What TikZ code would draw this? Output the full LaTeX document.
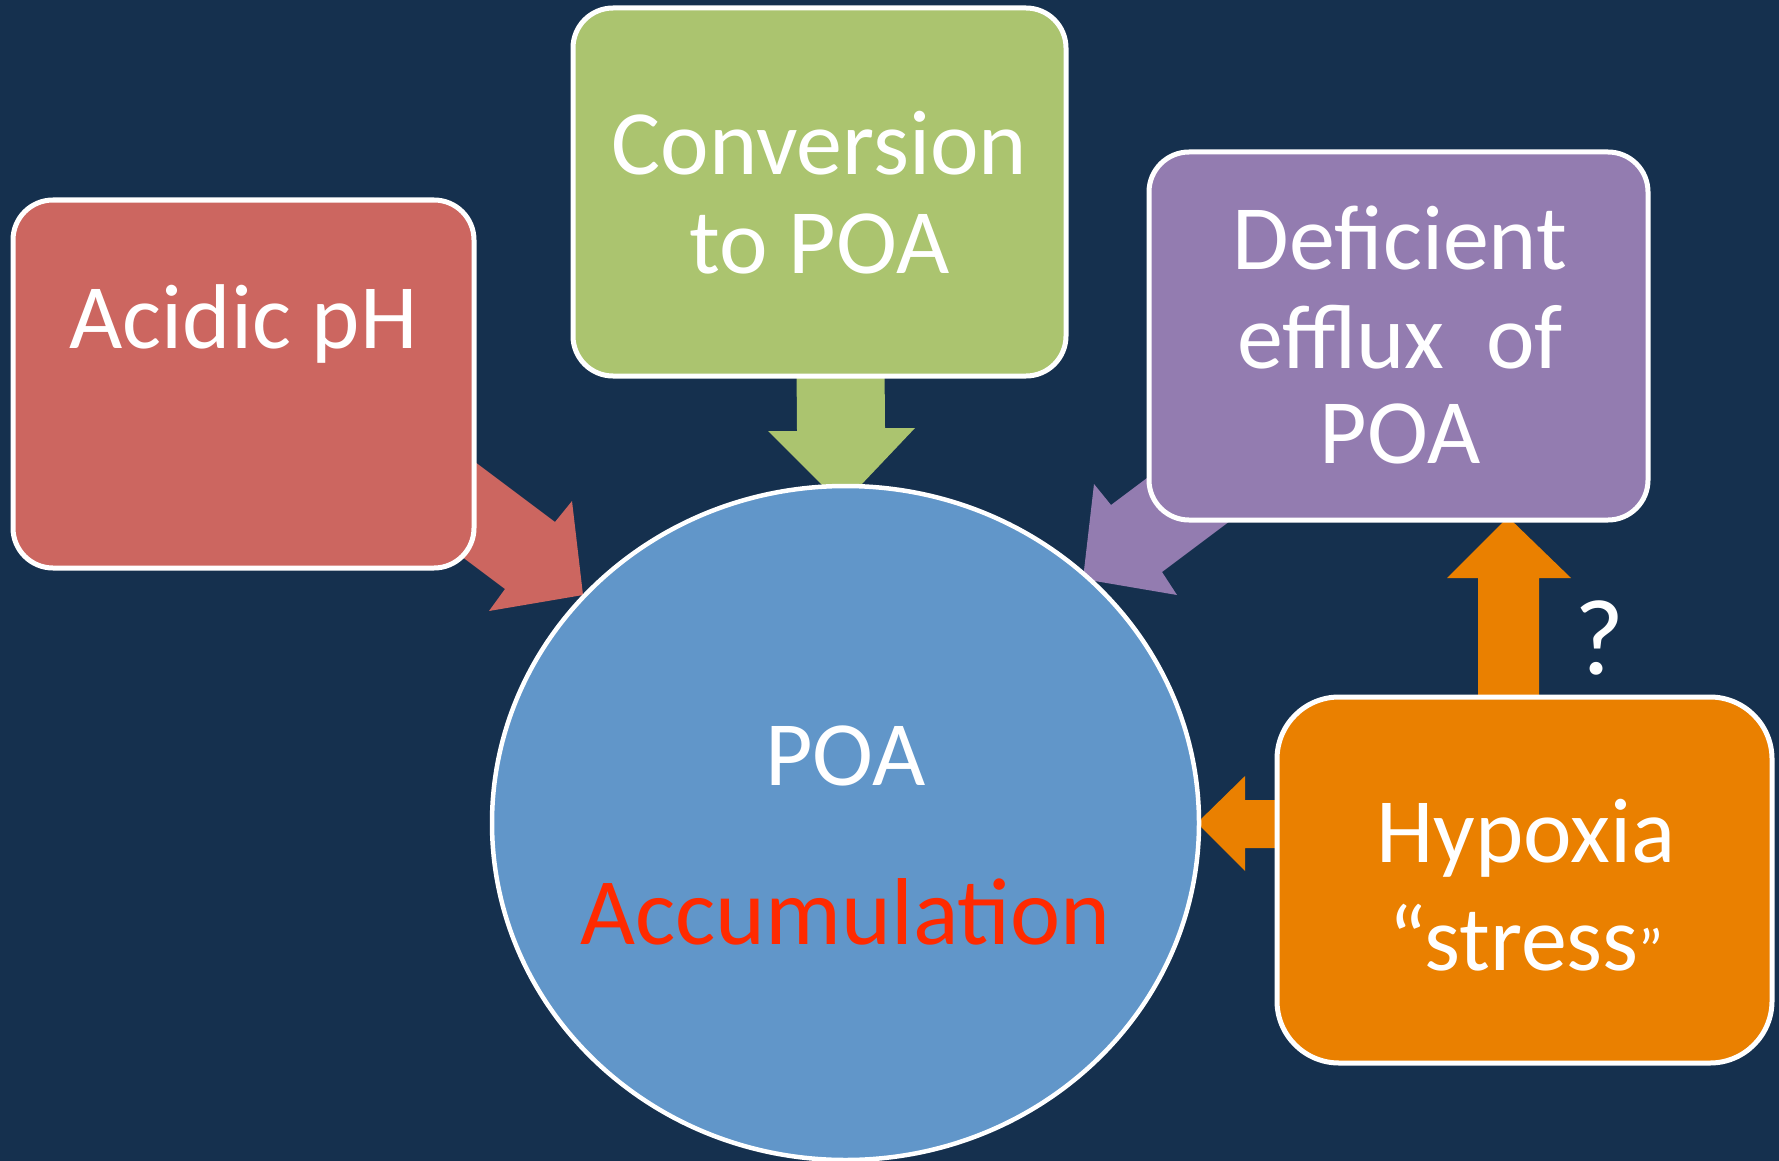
\documentclass[tikz,border=0pt]{standalone}
\usepackage{fontspec}
\setmainfont{Carlito}
\usetikzlibrary{shapes.geometric}
\definecolor{bg}{HTML}{15304E}
\definecolor{redc}{HTML}{CC6660}
\definecolor{greenc}{HTML}{ABC46F}
\definecolor{purplec}{HTML}{937CB0}
\definecolor{orangec}{HTML}{EA8000}
\definecolor{bluec}{HTML}{6196C9}
\definecolor{redtext}{HTML}{FF2A00}
\begin{document}
\begin{tikzpicture}[x=1pt,y=-1pt,
  every node/.style={inner sep=0pt,outer sep=0pt},
  box/.style={rectangle,draw=white,line width=5pt,rounded corners=40pt},
  lbl/.style={text=white,font=\fontsize{92}{100}\selectfont,anchor=base}]
\fill[bg] (0,0) rectangle (1779,1161);
\useasboundingbox (0,0) rectangle (1779,1161);
% block arrows (drawn beneath boxes and circle)
\fill[redc] (395,402) -- (555,522) -- (572,501) -- (583,595) -- (489,611) -- (505,589) -- (345,469) -- cycle;
\fill[greenc] (796,300) -- (797,431) -- (768,431) -- (842,505) -- (915,428) -- (885,428) -- (884,300) -- cycle;
\fill[purplec] (1271,385) -- (1111,505) -- (1094,484) -- (1083,579) -- (1177,595) -- (1162,572) -- (1322,452) -- cycle;
\fill[orangec] (1478,760) -- (1478,578) -- (1447,578) -- (1508,517) -- (1571,578) -- (1539,578) -- (1539,760) -- cycle;
\fill[orangec] (1350,800) -- (1245,800) -- (1245,776) -- (1197,823) -- (1245,871) -- (1245,848) -- (1350,848) -- cycle;
% boxes
\node[box,fill=redc,minimum width=461pt,minimum height=368pt] (acid) at (243.5,384) {};
\node[box,fill=greenc,minimum width=493pt,minimum height=368pt] (conv) at (819.5,192) {};
\node[box,fill=purplec,minimum width=499pt,minimum height=368pt] (defi) at (1398.5,336) {};
\node[box,fill=orangec,rounded corners=62pt,minimum width=495pt,minimum height=366pt] (hypo) at (1524.5,880) {};
\node[ellipse,draw=white,line width=4.5pt,fill=bluec,minimum width=707pt,minimum height=674pt] (poa) at (845.5,823) {};
% texts
\node[lbl] (tacid) at (243.5,348) {Acidic pH};
\node[lbl] (tconv1) at (819.5,175) {Conversion};
\node[lbl] (tconv2) at (819.5,273) {to POA};
\node[lbl] (tdefi1) at (1400,269) {Deficient};
\node[lbl] (tdefi2) at (1400,368) {efflux\ \ of};
\node[lbl] (tdefi3) at (1400,463) {POA};
\node[lbl] (thypo1) at (1526,862) {Hypoxia};
\node[lbl] (thypo2) at (1526,970) {“stress{\fontsize{60}{60}\selectfont ”}};
\node[lbl] (tpoa) at (845.5,785) {POA};
\node[lbl,text=redtext,font=\fontsize{95}{100}\selectfont] (taccu) at (845.5,944) {Accumulation};
\node[lbl,font=\fontsize{108}{110}\selectfont] (tq) at (1599,674) {?};
\end{tikzpicture}
\end{document}
